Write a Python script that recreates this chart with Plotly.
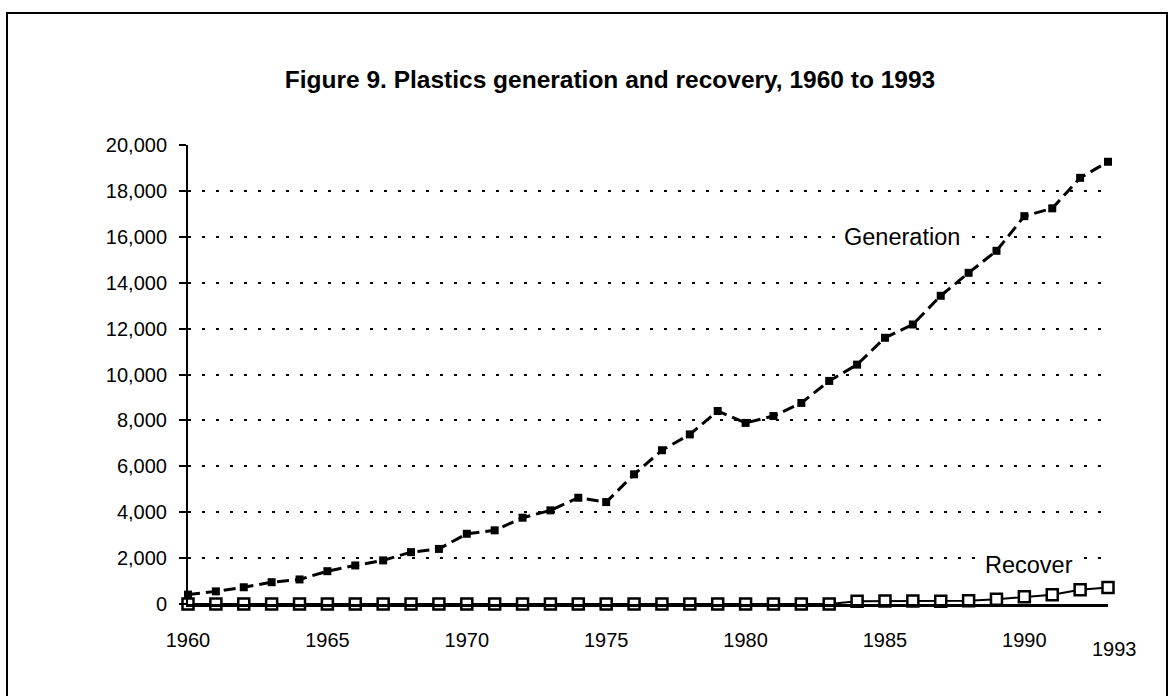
import plotly.graph_objects as go

# Plastics in municipal solid waste, thousand tons per year
years = list(range(1960, 1994))
generation = [410, 550, 730, 950, 1070, 1430, 1680, 1900, 2260, 2400,
              3060, 3210, 3760, 4080, 4630, 4440, 5650, 6700, 7390, 8410,
              7890, 8190, 8760, 9720, 10430, 11600, 12180, 13430, 14430, 15390,
              16900, 17240, 18570, 19270]
recovery = [0, 0, 0, 0, 0, 0, 0, 0, 0, 0,
            0, 0, 0, 0, 0, 0, 0, 0, 0, 0,
            0, 0, 0, 0, 120, 130, 130, 120, 140, 210,
            320, 400, 620, 720]

x_label_years = [1960, 1965, 1970, 1975, 1980, 1985, 1990]
y_ticks = list(range(0, 20001, 2000))

title_text = "Figure 9. Plastics generation and recovery, 1960 to 1993"
FONT = "Liberation Sans, Arial, sans-serif"

W, H = 1170, 696
M_L, M_R, M_T, M_B = 188, 62, 145, 92
plot_w = W - M_L - M_R
plot_h = H - M_T - M_B

fig = go.Figure()

fig.add_trace(go.Scatter(
    x=years, y=generation, name="Generation", mode="lines+markers",
    line=dict(color="black", width=3, dash="12px,6px"),
    marker=dict(symbol="square", size=8, color="black"),
    cliponaxis=False, showlegend=False,
))
fig.add_trace(go.Scatter(
    x=years, y=recovery, name="Recover", mode="lines+markers",
    line=dict(color="black", width=2),
    marker=dict(symbol="square", size=11, color="white",
                line=dict(color="black", width=2.5)),
    cliponaxis=False, showlegend=False,
))

fig.update_layout(
    width=W, height=H,
    margin=dict(l=M_L, r=M_R, t=M_T, b=M_B, autoexpand=False),
    paper_bgcolor="white", plot_bgcolor="white",
    font=dict(family=FONT, color="black", size=20),
    title=dict(text="<b>" + title_text + "</b>", x=610 / W, xanchor="center",
               y=1 - 79 / H, yanchor="middle", yref="container",
               font=dict(family=FONT, size=24.5, color="black")),
    xaxis=dict(range=[1960, 1993], tickvals=x_label_years,
               ticks="", showgrid=False, zeroline=False,
               showline=True, linecolor="black", linewidth=2.5,
               ticklabelstandoff=16, tickfont=dict(size=20)),
    xaxis2=dict(overlaying="x", matches="x", tickvals=[1990, 1993],
                ticks="outside", ticklen=8, tickwidth=2, tickcolor="black",
                showticklabels=False, showgrid=False, zeroline=False,
                showline=False, anchor="y"),
    yaxis=dict(range=[0, 20000], tickvals=y_ticks, tickformat=",",
               ticks="outside", ticklen=7, tickwidth=2, tickcolor="black",
               showgrid=True, gridcolor="black", gridwidth=2,
               griddash="3px,11px", zeroline=False,
               showline=True, linecolor="black", linewidth=2,
               ticklabelstandoff=8, tickfont=dict(size=20)),
    yaxis2=dict(overlaying="y", matches="y", side="left", tickvals=y_ticks,
                ticks="inside", ticklen=7, tickwidth=2, tickcolor="black",
                showticklabels=False, showgrid=False, zeroline=False,
                showline=False, anchor="x"),
)

# series labels
fig.add_annotation(x=1985.6, y=16000, text="Generation", showarrow=False,
                   font=dict(size=23.5), bgcolor="white",
                   xanchor="center", yanchor="middle")
fig.add_annotation(x=1990.15, y=1700, text="Recover", showarrow=False,
                   font=dict(size=23.5), bgcolor="white",
                   xanchor="center", yanchor="middle")
# the last year label sits a little lower than the others
fig.add_annotation(x=1993, y=0, text="1993", showarrow=False,
                   font=dict(size=20), xanchor="center", yanchor="middle",
                   xshift=6, yshift=-45)

# frame around the whole chart
def px_to_paper_x(px):
    return (px - M_L) / plot_w

def px_to_paper_y(py):
    return (H - M_B - py) / plot_h

fig.add_shape(type="rect", xref="paper", yref="paper",
              x0=px_to_paper_x(7), x1=px_to_paper_x(1167),
              y0=px_to_paper_y(705), y1=px_to_paper_y(13),
              line=dict(color="black", width=2), layer="below")

fig.write_html("out.html")
